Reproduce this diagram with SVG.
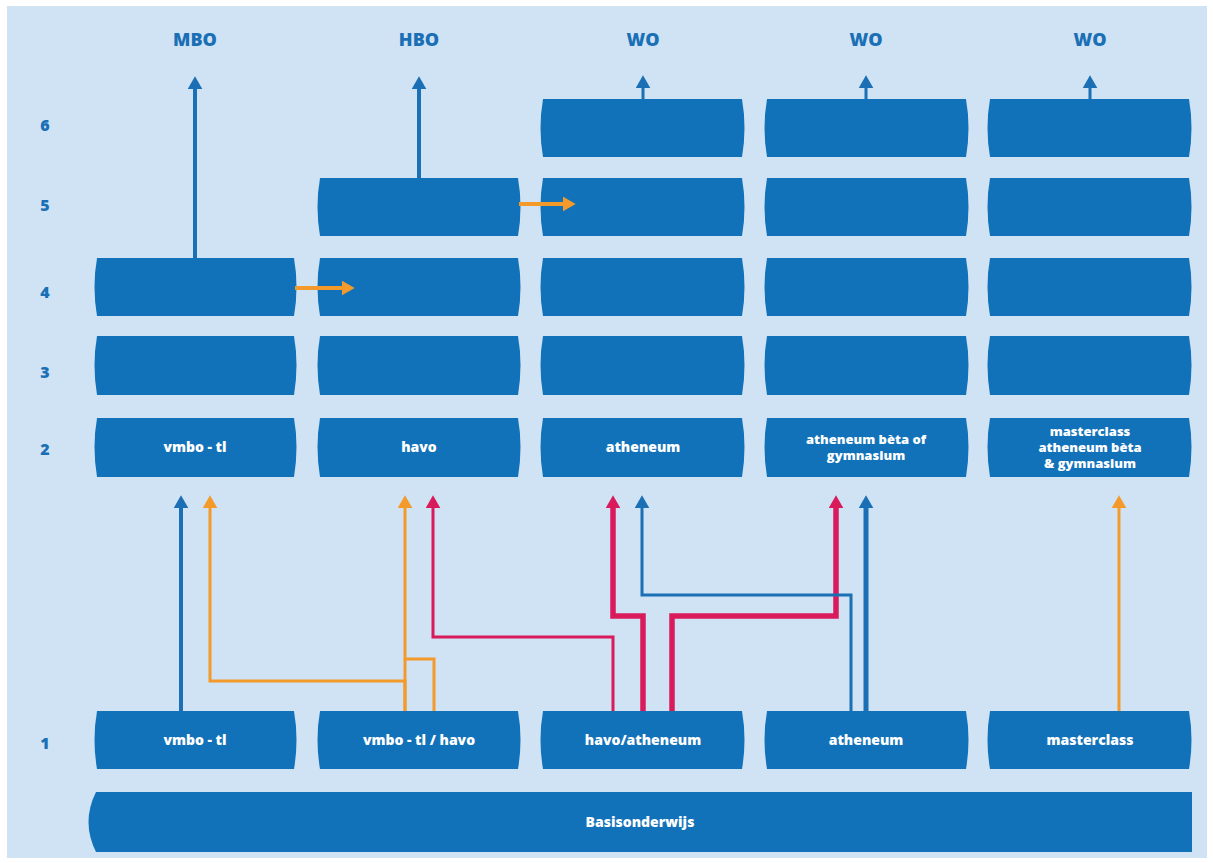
<svg xmlns="http://www.w3.org/2000/svg" width="1213" height="863" viewBox="0 0 1213 863">
<defs>
<style>
.box{fill:#1172b9}
.t{fill:#fff;font-family:"Open Sans","Liberation Sans",sans-serif;font-weight:800;font-size:14px;text-anchor:middle}
.t2{fill:#fff;font-family:"Open Sans","Liberation Sans",sans-serif;font-weight:800;font-size:13px;text-anchor:middle}
.h{fill:#1a6fb5;font-family:"Open Sans","Liberation Sans",sans-serif;font-weight:800;font-size:18px;text-anchor:middle}
.n{fill:#1a6fb5;font-family:"Open Sans","Liberation Sans",sans-serif;font-weight:800;font-size:16px;text-anchor:middle}
.c{fill:none;stroke-linejoin:miter}
.bl{stroke:#1a6fb5}
.or{stroke:#f39a2a}
.rd{stroke:#d91a5b}
</style>
<marker id="ab" viewBox="0 0 10 10" refX="1" refY="5" markerWidth="13" markerHeight="15" markerUnits="userSpaceOnUse" orient="auto" preserveAspectRatio="none"><path d="M0,0 L10,5 L0,10 Z" fill="#1a6fb5"/></marker>
<marker id="ao" viewBox="0 0 10 10" refX="1" refY="5" markerWidth="13" markerHeight="15" markerUnits="userSpaceOnUse" orient="auto" preserveAspectRatio="none"><path d="M0,0 L10,5 L0,10 Z" fill="#f39a2a"/></marker>
<marker id="ar" viewBox="0 0 10 10" refX="1" refY="5" markerWidth="13" markerHeight="15" markerUnits="userSpaceOnUse" orient="auto" preserveAspectRatio="none"><path d="M0,0 L10,5 L0,10 Z" fill="#d91a5b"/></marker>
</defs>
<rect x="0" y="0" width="1213" height="863" fill="#ffffff"/>
<rect x="7" y="6" width="1200" height="852" fill="#cfe3f5"/>

<g id="headers">
<text class="h" x="195" y="46">MBO</text>
<text class="h" x="419" y="46">HBO</text>
<text class="h" x="643" y="46">WO</text>
<text class="h" x="866" y="46">WO</text>
<text class="h" x="1090" y="46">WO</text>
</g>
<g id="row-labels">
<text class="n" x="45" y="131">6</text>
<text class="n" x="45" y="211">5</text>
<text class="n" x="45" y="298">4</text>
<text class="n" x="45" y="378">3</text>
<text class="n" x="45" y="455">2</text>
<text class="n" x="45" y="749">1</text>
</g>

<!-- column 1 -->
<g id="c1r4"><path class="box" d="M97,258 L294,258 Q299,287 294,316 L97,316 Q92,287 97,258 Z"/></g>
<g id="c1r3"><path class="box" d="M97,336 L294,336 Q299,365 294,395 L97,395 Q92,365 97,336 Z"/></g>
<g id="c1r2"><path class="box" d="M97,418 L294,418 Q299,447 294,477 L97,477 Q92,447 97,418 Z"/><text class="t" x="195" y="452">vmbo - tl</text></g>
<g id="c1r1"><path class="box" d="M97,711 L294,711 Q299,740 294,769 L97,769 Q92,740 97,711 Z"/><text class="t" x="195" y="745">vmbo - tl</text></g>

<!-- column 2 -->
<g id="c2r5"><path class="box" d="M320,178 L518,178 Q523,207 518,236 L320,236 Q315,207 320,178 Z"/></g>
<g id="c2r4"><path class="box" d="M320,258 L518,258 Q523,287 518,316 L320,316 Q315,287 320,258 Z"/></g>
<g id="c2r3"><path class="box" d="M320,336 L518,336 Q523,365 518,395 L320,395 Q315,365 320,336 Z"/></g>
<g id="c2r2"><path class="box" d="M320,418 L518,418 Q523,447 518,477 L320,477 Q315,447 320,418 Z"/><text class="t" x="419" y="452">havo</text></g>
<g id="c2r1"><path class="box" d="M320,711 L518,711 Q523,740 518,769 L320,769 Q315,740 320,711 Z"/><text class="t" x="419" y="745">vmbo - tl / havo</text></g>

<!-- column 3 -->
<g id="c3r6"><path class="box" d="M543,99 L742,99 Q747,128 742,157 L543,157 Q538,128 543,99 Z"/></g>
<g id="c3r5"><path class="box" d="M543,178 L742,178 Q747,207 742,236 L543,236 Q538,207 543,178 Z"/></g>
<g id="c3r4"><path class="box" d="M543,258 L742,258 Q747,287 742,316 L543,316 Q538,287 543,258 Z"/></g>
<g id="c3r3"><path class="box" d="M543,336 L742,336 Q747,365 742,395 L543,395 Q538,365 543,336 Z"/></g>
<g id="c3r2"><path class="box" d="M543,418 L742,418 Q747,447 742,477 L543,477 Q538,447 543,418 Z"/><text class="t" x="643" y="452">atheneum</text></g>
<g id="c3r1"><path class="box" d="M543,711 L742,711 Q747,740 742,769 L543,769 Q538,740 543,711 Z"/><text class="t" x="643" y="745">havo/atheneum</text></g>

<!-- column 4 -->
<g id="c4r6"><path class="box" d="M767,99 L966,99 Q971,128 966,157 L767,157 Q762,128 767,99 Z"/></g>
<g id="c4r5"><path class="box" d="M767,178 L966,178 Q971,207 966,236 L767,236 Q762,207 767,178 Z"/></g>
<g id="c4r4"><path class="box" d="M767,258 L966,258 Q971,287 966,316 L767,316 Q762,287 767,258 Z"/></g>
<g id="c4r3"><path class="box" d="M767,336 L966,336 Q971,365 966,395 L767,395 Q762,365 767,336 Z"/></g>
<g id="c4r2"><path class="box" d="M767,418 L966,418 Q971,447 966,477 L767,477 Q762,447 767,418 Z"/><text class="t2" x="866" y="444">atheneum bèta of</text><text class="t2" x="866" y="460">gymnasium</text></g>
<g id="c4r1"><path class="box" d="M767,711 L966,711 Q971,740 966,769 L767,769 Q762,740 767,711 Z"/><text class="t" x="866" y="745">atheneum</text></g>

<!-- column 5 -->
<g id="c5r6"><path class="box" d="M990,99 L1189,99 Q1194,128 1189,157 L990,157 Q985,128 990,99 Z"/></g>
<g id="c5r5"><path class="box" d="M990,178 L1189,178 Q1194,207 1189,236 L990,236 Q985,207 990,178 Z"/></g>
<g id="c5r4"><path class="box" d="M990,258 L1189,258 Q1194,287 1189,316 L990,316 Q985,287 990,258 Z"/></g>
<g id="c5r3"><path class="box" d="M990,336 L1189,336 Q1194,365 1189,395 L990,395 Q985,365 990,336 Z"/></g>
<g id="c5r2"><path class="box" d="M990,418 L1189,418 Q1194,447 1189,477 L990,477 Q985,447 990,418 Z"/><text class="t2" x="1090" y="436">masterclass</text><text class="t2" x="1090" y="452">atheneum bèta</text><text class="t2" x="1090" y="468">&amp; gymnasium</text></g>
<g id="c5r1"><path class="box" d="M990,711 L1189,711 Q1194,740 1189,769 L990,769 Q985,740 990,711 Z"/><text class="t" x="1090" y="745">masterclass</text></g>

<g id="basis"><path class="box" d="M96,792 L1192,792 L1192,852 L96,852 Q81,822 96,792 Z"/><text class="t" x="640" y="827">Basisonderwijs</text></g>

<g id="connectors">
<path class="c bl" stroke-width="4" d="M195,258 V88" marker-end="url(#ab)"/>
<path class="c bl" stroke-width="4" d="M419,178 V88" marker-end="url(#ab)"/>
<path class="c bl" stroke-width="3" d="M643,99 V87" marker-end="url(#ab)"/>
<path class="c bl" stroke-width="3" d="M866,99 V87" marker-end="url(#ab)"/>
<path class="c bl" stroke-width="3" d="M1090,99 V87" marker-end="url(#ab)"/>
<path class="c or" stroke-width="4" d="M295,288 H343" marker-end="url(#ao)"/>
<path class="c or" stroke-width="4" d="M519,204 H564" marker-end="url(#ao)"/>
<path class="c bl" stroke-width="4" d="M181,711 V507" marker-end="url(#ab)"/>
<path class="c or" stroke-width="3" d="M405,711 V681 H210 V507" marker-end="url(#ao)"/>
<path class="c or" stroke-width="3" d="M434,711 V659 H405 V507" marker-end="url(#ao)"/>
<path class="c or" stroke-width="3" d="M405,659 V711"/>
<path class="c rd" stroke-width="3" d="M613,711 V637 H433 V507" marker-end="url(#ar)"/>
<path class="c rd" stroke-width="5.5" d="M643,711 V616 H613 V507" marker-end="url(#ar)"/>
<path class="c rd" stroke-width="5.5" d="M672,711 V616 H836 V507" marker-end="url(#ar)"/>
<path class="c bl" stroke-width="3" d="M851,711 V595 H642 V507" marker-end="url(#ab)"/>
<path class="c bl" stroke-width="5" d="M866,711 V507" marker-end="url(#ab)"/>
<path class="c or" stroke-width="3" d="M1119,711 V507" marker-end="url(#ao)"/>
</g>
</svg>
